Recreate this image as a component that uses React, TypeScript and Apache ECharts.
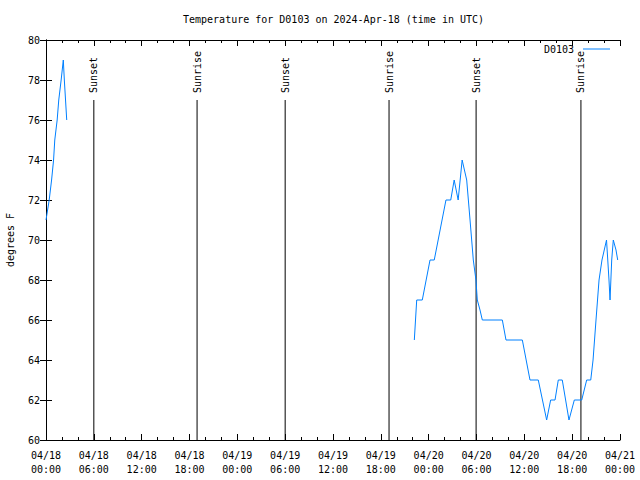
import React, { useEffect, useRef } from "react";
import * as echarts from "echarts";

// Hours since 2024-04-18 00:00 UTC, and temperature (°F)
const seg1Hours = [0, 0.4, 0.7, 0.95, 1.1, 1.4, 1.6, 1.9, 2.17, 2.3, 2.45, 2.6];
const seg1Temps = [71, 72, 73, 74, 75, 76, 77, 78, 79, 78, 77, 76];

const seg2Hours = [
  46.2, 46.5, 47.2, 48.17, 48.7, 50.17, 50.77, 51.2, 51.7, 52.2, 52.77, 53.19,
  53.6, 53.93, 54.1, 54.44, 54.73, 57.24, 57.7, 59.75, 60.71, 61.75, 62.8, 63.3,
  63.85, 64.26, 64.76, 65.6, 66.27, 67.2, 67.82, 68.33, 68.62, 68.99, 69.37,
  69.74, 70.31, 70.62, 70.75, 70.96, 71.16, 71.5, 71.71,
];
const seg2Temps = [
  65, 67, 67, 69, 69, 72, 72, 73, 72, 74, 73, 71,
  69, 68, 67, 66.5, 66, 66, 65, 65, 63, 63, 61, 62,
  62, 63, 63, 61, 62, 62, 63, 63, 64, 66, 68,
  69, 70, 68, 67, 69, 70, 69.5, 69,
];

const eventHours = [6.0, 18.95, 30.0, 43.03, 53.95, 67.1];
const eventNames = ["Sunset", "Sunrise", "Sunset", "Sunrise", "Sunset", "Sunrise"];

const seriesName = "D0103";
const titleText = "Temperature for D0103 on 2024-Apr-18 (time in UTC)";
const yName = "degrees F";

const FONT = "DejaVu Sans Mono";
const LINE_COLOR = "#0080ff";

function fmtHour(h: number): string {
  const day = 18 + Math.floor(h / 24);
  const hh = ((h % 24) + 24) % 24;
  const p = (n: number) => (n < 10 ? "0" + n : "" + n);
  return `04/${p(day)}\n${p(hh)}:00`;
}

export default function App() {
  const ref = useRef<HTMLDivElement>(null);
  useEffect(() => {
    if (!ref.current) return;
    document.body.style.margin = "0";
    const chart = echarts.init(ref.current, null, { renderer: "svg" });
    const seg1 = seg1Hours.map((h, i) => [h, seg1Temps[i]]);
    const seg2 = seg2Hours.map((h, i) => [h, seg2Temps[i]]);
    const xCommon = {
      type: "value",
      min: 0,
      max: 72,
      interval: 6,
      axisLine: { show: true, lineStyle: { color: "#000", width: 1 } },
      axisTick: { show: true, inside: true, length: 6, lineStyle: { color: "#000" } },
      minorTick: { show: true, splitNumber: 3, length: 3, lineStyle: { color: "#000" } },
      splitLine: { show: false },
      minorSplitLine: { show: false },
    };
    const yCommon = {
      type: "value",
      min: 60,
      max: 80,
      interval: 2,
      axisLine: { show: true, lineStyle: { color: "#000", width: 1 } },
      axisTick: { show: true, inside: true, length: 6, lineStyle: { color: "#000" } },
      splitLine: { show: false },
    };
    chart.setOption({
      animation: false,
      backgroundColor: "#fff",
      title: {
        text: titleText,
        left: 178,
        top: 9,
        textStyle: { fontFamily: FONT, fontSize: 10, fontWeight: "normal", color: "#000" },
      },
      legend: {
        data: [{ name: seriesName, icon: "rect" }],
        right: 25,
        top: 39,
        align: "right",
        itemWidth: 27,
        itemHeight: 1,
        itemGap: 8,
        textStyle: { fontFamily: FONT, fontSize: 10, color: "#000", padding: [0, 4, 0, 0] },
      },
      grid: {
        left: 46,
        right: 20,
        top: 40,
        bottom: 40,
        containLabel: false,
        outerBoundsMode: "none",
      },
      xAxis: [
        {
          ...xCommon,
          position: "bottom",
          axisLabel: {
            show: true,
            margin: 8,
            fontFamily: FONT,
            fontSize: 10,
            color: "#000",
            lineHeight: 14,
            formatter: (v: number) => fmtHour(v),
          },
        },
        { ...xCommon, position: "top", axisLabel: { show: false } },
      ],
      yAxis: [
        {
          ...yCommon,
          position: "left",
          name: yName,
          nameLocation: "middle",
          nameGap: 31,
          nameTextStyle: { fontFamily: FONT, fontSize: 10, color: "#000" },
          axisLabel: { show: true, margin: 6, fontFamily: FONT, fontSize: 10, color: "#000" },
        },
        { ...yCommon, position: "right", axisLabel: { show: false } },
      ],
      series: [
        {
          type: "custom",
          name: "events",
          xAxisIndex: 0,
          yAxisIndex: 0,
          data: eventHours.map((h) => [h, 60]),
          encode: { x: 0, y: 1 },
          silent: true,
          z: 1,
          renderItem: (params: any, api: any) => {
            const h = api.value(0);
            const p0 = api.coord([h, 60]);
            const p1 = api.coord([h, 77]);
            const pt = api.coord([h, 77.35]);
            return {
              type: "group",
              children: [
                {
                  type: "line",
                  shape: { x1: p0[0], y1: p0[1], x2: p1[0], y2: p1[1] },
                  style: { stroke: "#000", lineWidth: 1 },
                },
                {
                  type: "text",
                  x: pt[0],
                  y: pt[1],
                  rotation: Math.PI / 2,
                  style: {
                    text: eventNames[params.dataIndex],
                    align: "left",
                    verticalAlign: "middle",
                    fontFamily: FONT,
                    fontSize: 10,
                    fill: "#000",
                  },
                },
              ],
            };
          },
        },
        {
          type: "line",
          name: seriesName,
          data: seg1,
          symbol: "none",
          lineStyle: { color: LINE_COLOR, width: 1 },
          itemStyle: { color: LINE_COLOR },
          z: 2,
        },
        {
          type: "line",
          name: seriesName,
          data: seg2,
          symbol: "none",
          lineStyle: { color: LINE_COLOR, width: 1 },
          itemStyle: { color: LINE_COLOR },
          z: 2,
        },
      ],
    });
    return () => chart.dispose();
  }, []);
  return <div ref={ref} style={{ width: 640, height: 480 }} />;
}
